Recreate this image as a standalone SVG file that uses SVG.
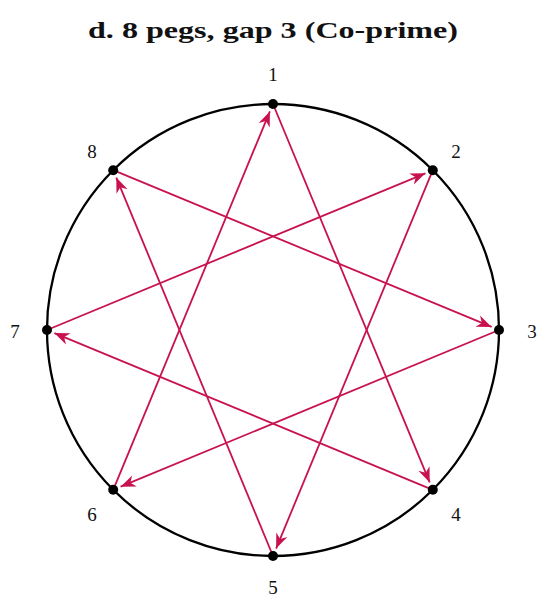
<svg xmlns="http://www.w3.org/2000/svg" width="558" height="610" viewBox="0 0 558 610">
<style>
.title{font-family:"Liberation Serif","DejaVu Serif",serif;font-weight:bold;font-size:23px;fill:#111}
.lbl{font-family:"Liberation Serif","DejaVu Serif",serif;font-size:19px;fill:#111;text-anchor:middle}
.edge{stroke:#C8124F;stroke-width:1.8;fill:none}
.peg{fill:#000}
</style>
<defs>
<marker id="ah" markerUnits="userSpaceOnUse" viewBox="-16 -7 18 14" refX="0" refY="0" markerWidth="18" markerHeight="14" orient="auto">
<path d="M0,0 L-15,-6 L-10.5,0 L-15,6 Z" fill="#C8124F"/>
</marker>
</defs>
<rect width="558" height="610" fill="#fff"/>
<text class="title" x="273" y="38" text-anchor="middle" textLength="370" lengthAdjust="spacingAndGlyphs">d. 8 pegs, gap 3 (Co-prime)</text>
<circle cx="273" cy="330" r="226" fill="none" stroke="#000" stroke-width="2.3"/>
<g id="connectors">
<line class="edge" x1="273" y1="104" x2="429.7" y2="482.4" marker-end="url(#ah)"/>
<line class="edge" x1="432.8" y1="489.8" x2="54.4" y2="333.1" marker-end="url(#ah)"/>
<line class="edge" x1="47" y1="330" x2="425.4" y2="173.3" marker-end="url(#ah)"/>
<line class="edge" x1="432.8" y1="170.2" x2="276.1" y2="548.6" marker-end="url(#ah)"/>
<line class="edge" x1="273" y1="556" x2="116.3" y2="177.6" marker-end="url(#ah)"/>
<line class="edge" x1="113.2" y1="170.2" x2="491.6" y2="326.9" marker-end="url(#ah)"/>
<line class="edge" x1="499" y1="330" x2="120.6" y2="486.7" marker-end="url(#ah)"/>
<line class="edge" x1="113.2" y1="489.8" x2="269.9" y2="111.4" marker-end="url(#ah)"/>
</g>
<g id="peg1"><circle class="peg" cx="273" cy="104" r="5"/><text class="lbl" x="273" y="81">1</text></g>
<g id="peg2"><circle class="peg" cx="432.8" cy="170.2" r="5"/><text class="lbl" x="456" y="158">2</text></g>
<g id="peg3"><circle class="peg" cx="499" cy="330" r="5"/><text class="lbl" x="532" y="338">3</text></g>
<g id="peg4"><circle class="peg" cx="432.8" cy="489.8" r="5"/><text class="lbl" x="456" y="521">4</text></g>
<g id="peg5"><circle class="peg" cx="273" cy="556" r="5"/><text class="lbl" x="273" y="594">5</text></g>
<g id="peg6"><circle class="peg" cx="113.2" cy="489.8" r="5"/><text class="lbl" x="92" y="521">6</text></g>
<g id="peg7"><circle class="peg" cx="47" cy="330" r="5"/><text class="lbl" x="15" y="338">7</text></g>
<g id="peg8"><circle class="peg" cx="113.2" cy="170.2" r="5"/><text class="lbl" x="92" y="158">8</text></g>
</svg>
